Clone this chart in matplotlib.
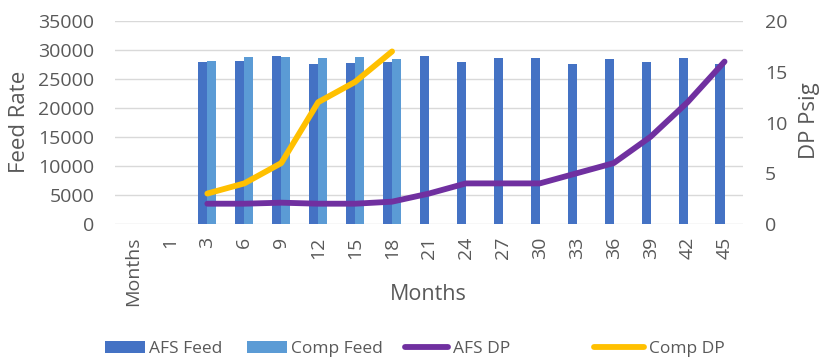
import matplotlib
matplotlib.use("Agg")
import matplotlib.pyplot as plt
import numpy as np

plt.rcParams['font.family'] = ['Open Sans', 'DejaVu Sans']

categories = ["Months", "1", "3", "6", "9", "12", "15", "18", "21", "24",
              "27", "30", "33", "36", "39", "42", "45"]
afs_feed = [np.nan, np.nan, 28000, 28100, 28950, 27600, 27700, 28000, 28950,
            28000, 28600, 28600, 27600, 28500, 28000, 28600, 27600]
comp_feed = [np.nan, np.nan, 28100, 28750, 28750, 28550, 28850, 28400] + [np.nan] * 9
afs_dp = [np.nan, np.nan, 2.0, 2.0, 2.1, 2.0, 2.0, 2.2, 3.0, 4.0, 4.0, 4.0,
          5.0, 6.0, 8.6, 12.0, 16.0]
comp_dp = [np.nan, np.nan, 3.0, 4.0, 6.0, 12.0, 14.0, 17.0] + [np.nan] * 9

TEXT = "#595959"
GRID = "#d9d9d9"
C_AFS_FEED = "#4472C4"
C_COMP_FEED = "#5B9BD5"
C_AFS_DP = "#7030A0"
C_COMP_DP = "#FFC000"

W, H = 819, 360
fig = plt.figure(figsize=(W / 100, H / 100), dpi=100)
# plot area in pixels: left 115, right 743, top 21, bottom 224
ax = fig.add_axes([115 / W, 1 - 224 / H, 628 / W, 203 / H])
ax2 = ax.twinx()

x = np.arange(len(categories))
w = 0.245
b1 = ax.bar(x - w / 2, afs_feed, width=w, color=C_AFS_FEED, zorder=2)
b2 = ax.bar(x + w / 2, comp_feed, width=w, color=C_COMP_FEED, zorder=2)
l1, = ax2.plot(x, afs_dp, color=C_AFS_DP, lw=4.2, solid_capstyle="round")
l2, = ax2.plot(x, comp_dp, color=C_COMP_DP, lw=4.2, solid_capstyle="round")

ax.set_xlim(-0.5, len(categories) - 0.5)
ax.set_ylim(0, 35000)
ax.set_yticks(np.arange(0, 35001, 5000))
ax2.set_ylim(0, 20)
ax2.set_yticks(np.arange(0, 21, 5))

ax.set_xticks(x)
ax.set_xticklabels(categories, rotation=90)
ax.yaxis.grid(True, color=GRID, lw=1, zorder=0)
ax.set_axisbelow(True)

for a in (ax, ax2):
    for s in a.spines.values():
        s.set_visible(False)
    a.tick_params(length=0, labelsize=14, colors=TEXT)
ax.tick_params(axis="x", pad=9)
ax.tick_params(axis="y", pad=15)
ax2.tick_params(axis="y", pad=16)

# axis titles
fig.text(20 / W, 1 - 122 / H, "Feed Rate", rotation=90, ha="center", va="center",
         fontsize=16, color=TEXT)
fig.text(810 / W, 1 - 121 / H, "DP Psig", rotation=90, ha="center", va="center",
         fontsize=16, color=TEXT)
fig.text(428 / W, 1 - 294 / H, "Months", ha="center", va="center",
         fontsize=15.5, color=TEXT)

# legend entries, each placed at its own slot along the bottom
entries = [(b1, "AFS Feed", 105, 2.3), (b2, "Comp Feed", 247, 2.3),
           (l1, "AFS DP", 405, 2.5), (l2, "Comp DP", 594, 2.9)]
for handle, label, xpix, hl in entries:
    leg = fig.legend([handle], [label], loc="center left",
                     bbox_to_anchor=(xpix / W, 1 - 349 / H), frameon=False,
                     fontsize=12.5, labelcolor=TEXT, handlelength=hl,
                     handleheight=0.7, handletextpad=0.25, borderpad=0,
                     borderaxespad=0)

fig.savefig("out.png", dpi=100)
